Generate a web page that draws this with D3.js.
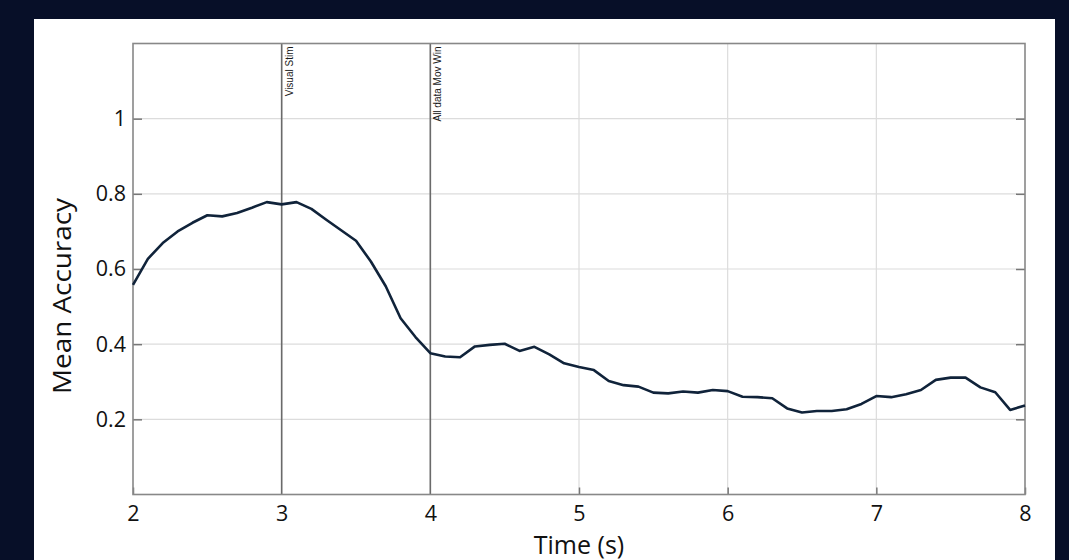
<!DOCTYPE html>
<html>
<head>
<meta charset="utf-8">
<script src="https://cdn.jsdelivr.net/npm/d3@7"></script>
<style>
  html, body { margin: 0; padding: 0; background: #070f28; }
  svg { display: block; }
</style>
</head>
<body>
<div id="chart"></div>
<script>
/* DATA */
const times = d3.range(61).map(i => +(2 + i * 0.1).toFixed(1)); // 2.0 .. 8.0 every 0.1 s
const accuracy = [
  0.558, 0.627, 0.669, 0.700, 0.723, 0.743, 0.740, 0.749, 0.763, 0.778,
  0.772, 0.778, 0.760, 0.731, 0.703, 0.675, 0.620, 0.554, 0.469, 0.419,
  0.376, 0.367, 0.365, 0.394, 0.398, 0.401, 0.382, 0.393, 0.373, 0.349,
  0.339, 0.331, 0.302, 0.291, 0.287, 0.271, 0.269, 0.274, 0.271, 0.278,
  0.275, 0.260, 0.259, 0.256, 0.229, 0.218, 0.222, 0.222, 0.227, 0.241,
  0.262, 0.259, 0.267, 0.278, 0.305, 0.311, 0.311, 0.285, 0.272, 0.225,
  0.237
];
const xTicks = [2, 3, 4, 5, 6, 7, 8];
const yTicks = [0.2, 0.4, 0.6, 0.8, 1];
const events = [
  { t: 3, label: "Visual Stim" },
  { t: 4, label: "All data Mov Win" }
];

/* LAYOUT */
const width = 1069, height = 560;
const panel = { x: 34, y: 19, w: 1021, h: 541 };
const plot = { left: 133, right: 1025, top: 43.5, bottom: 494.5 };

const svg = d3.select("#chart").append("svg")
  .attr("width", width)
  .attr("height", height);

svg.append("rect")
  .attr("width", width).attr("height", height)
  .attr("fill", "#070f28");

svg.append("rect")
  .attr("x", panel.x).attr("y", panel.y)
  .attr("width", panel.w).attr("height", panel.h)
  .attr("fill", "#ffffff");

const xScale = d3.scaleLinear().domain([2, 8]).range([plot.left, plot.right]);
const yScale = d3.scaleLinear().domain([0, 1.2]).range([plot.bottom, plot.top]);

// grid
svg.append("g").selectAll("line.gx")
  .data(xTicks.slice(1, -1))
  .join("line")
  .attr("x1", d => xScale(d)).attr("x2", d => xScale(d))
  .attr("y1", plot.top).attr("y2", plot.bottom)
  .attr("stroke", "#dcdcdc").attr("stroke-width", 1.2);

svg.append("g").selectAll("line.gy")
  .data(yTicks)
  .join("line")
  .attr("x1", plot.left).attr("x2", plot.right)
  .attr("y1", d => yScale(d)).attr("y2", d => yScale(d))
  .attr("stroke", "#dcdcdc").attr("stroke-width", 1.2);

// event lines + labels
const ev = svg.append("g");
ev.selectAll("line")
  .data(events)
  .join("line")
  .attr("x1", d => xScale(d.t)).attr("x2", d => xScale(d.t))
  .attr("y1", plot.top).attr("y2", plot.bottom)
  .attr("stroke", "#6a6a6a").attr("stroke-width", 1.6);

ev.selectAll("text")
  .data(events)
  .join("text")
  .attr("transform", d => `translate(${xScale(d.t) + 11}, ${plot.top + 3}) rotate(-90)`)
  .attr("text-anchor", "end")
  .attr("font-family", "Liberation Sans, Arial, sans-serif")
  .attr("font-size", 10)
  .attr("fill", "#1a1a1a")
  .text(d => d.label);

// axes (ticks inside)
const xAxis = d3.axisBottom(xScale).tickValues(xTicks).tickSize(-7).tickPadding(11).tickFormat(d3.format("d"));
const yAxis = d3.axisLeft(yScale).tickValues(yTicks).tickSize(-9).tickPadding(7).tickFormat(d => d === 1 ? "1" : d3.format(".1f")(d));
const yAxisRight = d3.axisRight(yScale).tickValues(yTicks).tickSize(-9).tickFormat("");

const xAxisGroup = svg.append("g")
  .attr("transform", `translate(0, ${plot.bottom})`)
  .call(xAxis);
const yAxisGroup = svg.append("g")
  .attr("transform", `translate(${plot.left}, 0)`)
  .call(yAxis);
const yAxisRightGroup = svg.append("g")
  .attr("transform", `translate(${plot.right}, 0)`)
  .call(yAxisRight);

[xAxisGroup, yAxisGroup, yAxisRightGroup].forEach(g => {
  g.select(".domain").remove();
  g.selectAll(".tick line").attr("stroke", "#777").attr("stroke-width", 1.5);
  g.selectAll(".tick text")
    .attr("font-family", "Open Sans, sans-serif")
    .attr("font-size", 21.5)
    .attr("fill", "#111");
});
xAxisGroup.selectAll(".tick line").filter(d => d === 3 || d === 4).remove();

// frame
svg.append("rect")
  .attr("x", plot.left).attr("y", plot.top)
  .attr("width", plot.right - plot.left).attr("height", plot.bottom - plot.top)
  .attr("fill", "none")
  .attr("stroke", "#888").attr("stroke-width", 1.6);

// line
const lineGen = d3.line()
  .x((d, i) => xScale(times[i]))
  .y(d => yScale(d));

svg.append("path")
  .datum(accuracy)
  .attr("d", lineGen)
  .attr("fill", "none")
  .attr("stroke", "#10233a")
  .attr("stroke-width", 2.6)
  .attr("stroke-linejoin", "round");

// axis titles
svg.append("text")
  .attr("x", (plot.left + plot.right) / 2)
  .attr("y", 554)
  .attr("text-anchor", "middle")
  .attr("font-family", "Open Sans, sans-serif")
  .attr("font-size", 25)
  .attr("fill", "#111")
  .text("Time (s)");

svg.append("text")
  .attr("transform", `translate(71, ${(plot.top + plot.bottom) / 2 + 27}) rotate(-90)`)
  .attr("text-anchor", "middle")
  .attr("font-family", "Open Sans, sans-serif")
  .attr("font-size", 25)
  .attr("textLength", 196)
  .attr("lengthAdjust", "spacingAndGlyphs")
  .attr("fill", "#111")
  .text("Mean Accuracy");
</script>
</body>
</html>
